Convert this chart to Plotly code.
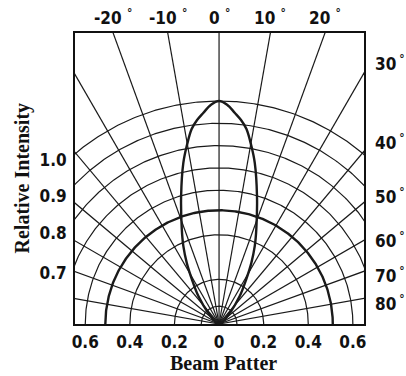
import numpy as np
import plotly.graph_objects as go

# ---- data ----
grid_radii = [0.08, 0.2, 0.4, 0.6, 0.7, 0.8, 0.9, 1.0]      # thin concentric circles
half_radius = 0.51                                           # thick circle (half intensity)
grid_angles = list(range(-80, 81, 10))                       # radial lines, degrees from axis
lobe_angles = [0, 2.1, 4.3, 6.15, 8.0, 10.3, 12.5, 16.5, 21.4, 24.6, 27.9, 31.2, 36.5, 44.0, 60.0]
lobe_values = [1.0, 0.984, 0.949, 0.920, 0.883, 0.811, 0.740, 0.599, 0.458, 0.385, 0.309, 0.236,
               0.156, 0.069, 0.0]
x_tick_vals = [-0.6, -0.4, -0.2, 0, 0.2, 0.4, 0.6]
x_tick_text = ["0.6", "0.4", "0.2", "0", "0.2", "0.4", "0.6"]
y_tick_vals = [0.735, 0.574, 0.408, 0.229]
y_tick_text = ["1.0", "0.9", "0.8", "0.7"]
top_angles = [-20, -10, 0, 10, 20]
right_angles = [30, 40, 50, 60, 70, 80]
right_label_y = [1.170, 0.816, 0.574, 0.377, 0.220, 0.094]

XR = [-0.646, 0.650]
YR = [0, 1.305]

INK = "#1a1a1a"
NUM_FONT = dict(family="Liberation Sans Narrow, DejaVu Sans Condensed, Arial Narrow, sans-serif",
                size=17, color="#111", weight="bold")
TITLE_FONT = dict(family="Liberation Serif, Times New Roman, serif", size=20, color="#111")


def polar_xy(theta_deg, r):
    t = np.radians(np.asarray(theta_deg, dtype=float))
    r = np.asarray(r, dtype=float)
    return r * np.sin(t), r * np.cos(t)


fig = go.Figure()

# concentric circles
phi = np.linspace(-90, 90, 361)
for r in grid_radii:
    x, y = polar_xy(phi, np.full_like(phi, r))
    fig.add_trace(go.Scatter(x=x, y=y, mode="lines", line=dict(color=INK, width=1.2),
                             hoverinfo="skip", showlegend=False))
x, y = polar_xy(phi, np.full_like(phi, half_radius))
fig.add_trace(go.Scatter(x=x, y=y, mode="lines", line=dict(color=INK, width=2.4),
                         hoverinfo="skip", showlegend=False))

# radial lines
for a in grid_angles:
    x, y = polar_xy([a, a], [0, 3])
    fig.add_trace(go.Scatter(x=x, y=y, mode="lines", line=dict(color=INK, width=1.2),
                             hoverinfo="skip", showlegend=False))

# beam lobe
ang = [-a for a in lobe_angles[::-1]] + lobe_angles[1:]
val = lobe_values[::-1] + lobe_values[1:]
x, y = polar_xy(ang, val)
fig.add_trace(go.Scatter(x=x, y=y, mode="lines",
                         line=dict(color=INK, width=2.4, shape="spline", smoothing=1.0),
                         hoverinfo="skip", showlegend=False))

annotations = []
for a in top_angles:
    annotations.append(dict(x=YR[1] * np.tan(np.radians(a)), y=1, xref="x", yref="paper",
                            text=f"{a} <sup>°</sup>", showarrow=False, font=NUM_FONT,
                            xanchor="center", yanchor="bottom", yshift=3))
for a, yy in zip(right_angles, right_label_y):
    annotations.append(dict(x=1, y=yy, xref="paper", yref="y",
                            text=f"{a}\u2009<sup>°</sup>", showarrow=False, font=NUM_FONT,
                            xanchor="left", yanchor="middle", xshift=9))
annotations.append(dict(x=0.5, y=0, xref="paper", yref="paper", text="<b>Beam Patter</b>",
                        showarrow=False, font=TITLE_FONT, yanchor="top", yshift=-26, xshift=4))
annotations.append(dict(x=0, y=0.5, xref="paper", yref="paper", text="<b>Relative Intensity</b>",
                        showarrow=False, font=TITLE_FONT, textangle=-90,
                        xanchor="center", yanchor="middle", xshift=-53, yshift=0))

fig.update_layout(
    width=406, height=376,
    margin=dict(l=75, r=42, t=33, b=52),
    paper_bgcolor="white", plot_bgcolor="white",
    annotations=annotations,
    xaxis=dict(range=XR, showgrid=False, zeroline=False, showline=True, mirror=True,
               linecolor="#111", linewidth=2, tickvals=x_tick_vals, ticktext=x_tick_text,
               ticks="", tickfont=NUM_FONT, ticklabelstandoff=2, fixedrange=True),
    yaxis=dict(range=YR, showgrid=False, zeroline=False, showline=True, mirror=True,
               linecolor="#111", linewidth=2, tickvals=y_tick_vals, ticktext=y_tick_text,
               ticks="", tickfont=NUM_FONT, ticklabelstandoff=3, fixedrange=True),
)

fig.write_html("out.html")
